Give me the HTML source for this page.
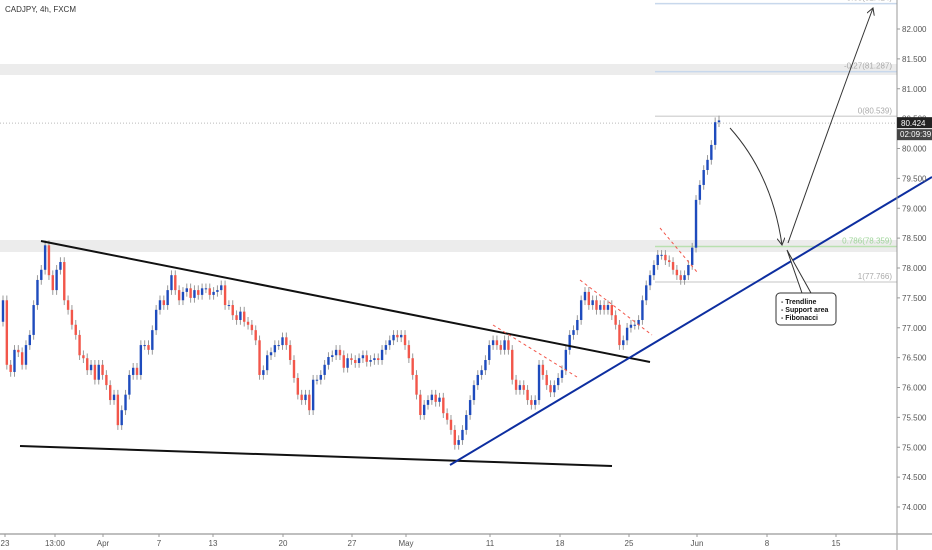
<!DOCTYPE html>
<html><head><meta charset="utf-8"><style>
body{margin:0;background:#fff;}
svg{display:block;font-family:"Liberation Sans",sans-serif;}
</style></head><body>
<svg id="chart" width="932" height="550" viewBox="0 0 932 550" xmlns="http://www.w3.org/2000/svg">
<rect width="932" height="550" fill="#fff"/>
<rect x="0" y="64" width="897" height="11" fill="#ececec"/>
<rect x="0" y="240" width="897" height="12" fill="#ececec"/>
<g id="fib"></g>
<g id="candles"></g>
<g id="draw"></g>
<g id="axis"></g>
<g id="xaxis"></g>
<text x="5" y="12" font-size="8" fill="#333">CADJPY, 4h, FXCM</text>
</svg>
<script>
const closes=[77.46,76.38,76.26,76.63,76.59,76.38,76.71,76.88,77.38,77.80,77.97,78.38,77.88,77.63,77.97,78.10,77.46,77.30,77.05,76.88,76.54,76.49,76.29,76.38,76.13,76.38,76.21,76.04,75.79,75.88,75.37,75.62,75.88,76.21,76.33,76.21,76.71,76.71,76.63,76.96,77.30,77.46,77.38,77.63,77.88,77.63,77.46,77.60,77.66,77.50,77.63,77.55,77.66,77.66,77.55,77.60,77.63,77.71,77.38,77.38,77.21,77.13,77.27,77.10,77.05,76.96,76.79,76.21,76.29,76.54,76.59,76.71,76.71,76.84,76.71,76.46,76.16,75.88,75.79,75.88,75.62,76.13,76.13,76.21,76.38,76.51,76.54,76.63,76.54,76.33,76.49,76.46,76.41,76.49,76.54,76.43,76.46,76.49,76.46,76.63,76.71,76.79,76.88,76.84,76.88,76.71,76.49,76.21,75.88,75.54,75.71,75.79,75.88,75.76,75.83,75.57,75.46,75.29,75.04,75.12,75.29,75.54,75.79,76.04,76.21,76.29,76.46,76.71,76.79,76.71,76.63,76.79,76.63,76.13,75.96,76.04,75.96,75.79,75.71,75.79,76.38,76.21,76.04,75.92,76.04,76.16,76.29,76.63,76.88,76.96,77.13,77.46,77.60,77.38,77.46,77.30,77.38,77.30,77.38,77.21,77.05,76.71,76.79,77.00,77.05,77.05,77.13,77.46,77.71,77.88,78.05,78.22,78.22,78.13,78.10,77.97,77.88,77.80,77.88,78.05,78.34,79.14,79.39,79.64,79.81,80.06,80.44,80.47];
const priceTicks=[74,74.5,75,75.5,76,76.5,77,77.5,78,78.5,79,79.5,80,80.5,81,81.5,82];
const timeLabels=["23","13:00","Apr","7","13","20","27","May","11","18","25","Jun","8","15"];
const timeLabelX=[5,55,103,159,213,283,352,406,490,560,629,697,767,836];
const fibLevels=[82.424,81.287,80.539,78.359,77.766];
const fibNames=["-0.68","-0.27","0","0.786","1"];
const fibColors=["#c8d8ec","#c8d8ec","#d8d8d8","#b9e0b0","#d8d8d8"];
const lastPrice=80.424;
const NS="http://www.w3.org/2000/svg";
function yS(p){return 29+(82-p)*59.75;}
function xS(i){return 3+i*(716/(closes.length-1));}
function mk(tag,attrs,parent){const e=document.createElementNS(NS,tag);for(const k in attrs)e.setAttribute(k,attrs[k]);parent.appendChild(e);return e;}
const cg=document.getElementById('candles');
for(let i=0;i<closes.length;i++){
  const o=i===0?77.1:closes[i-1],c=closes[i];
  const hi=Math.max(o,c)+0.08,lo=Math.min(o,c)-0.08;
  const x=xS(i);
  const w=mk('line',{x1:x,x2:x,y1:yS(hi),y2:yS(lo),stroke:'#9a9a9a','stroke-width':1},cg);
  
  
  const top=yS(Math.max(o,c)),h=Math.max(1,yS(Math.min(o,c))-top);
  const b=mk('rect',{x:x-1.2,y:top,width:2.4,height:h,fill:c>=o?'#1e4bbd':'#f2564a'},cg);
  
  
}
const fg=document.getElementById('fib');
fibLevels.forEach((p,i)=>{
  const l=mk('line',{x1:655,x2:897,y1:yS(p),y2:yS(p),stroke:fibColors[i],'stroke-width':1.5},fg);
  
  
  const t=mk('text',{x:892,y:yS(p)-3,'font-size':8,'text-anchor':'end',fill:i===3?'#9fd49a':'#aaa'},fg);
  t.textContent=fibNames[i]+'('+p.toFixed(3)+')';
  
  
});
const cp=mk('line',{x1:0,x2:897,y1:yS(lastPrice),y2:yS(lastPrice),stroke:'#bbb','stroke-dasharray':'1 2'},fg);


const ag=document.getElementById('axis');
mk('line',{x1:897,x2:897,y1:0,y2:550,stroke:'#999'},ag);
priceTicks.forEach(p=>{
  mk('line',{x1:897,x2:900,y1:yS(p),y2:yS(p),stroke:'#999'},ag);
  const t=mk('text',{x:902,y:yS(p)+3,'font-size':8,fill:'#555'},ag);
  t.textContent=p.toFixed(3);
  
  
});
mk('rect',{x:897,y:yS(lastPrice)-6,width:35,height:11,fill:'#222'},ag);
const lp=mk('text',{x:901,y:yS(lastPrice)+3,'font-size':8,fill:'#fff'},ag);lp.textContent=lastPrice.toFixed(3);


mk('rect',{x:897,y:yS(lastPrice)+6,width:35,height:11,fill:'#444'},ag);
const cd=mk('text',{x:900,y:yS(lastPrice)+14,'font-size':8,fill:'#fff'},ag);cd.textContent='02:09:39';


const xg=document.getElementById('xaxis');
mk('line',{x1:0,x2:932,y1:534,y2:534,stroke:'#aaa','stroke-width':1.5},xg);
timeLabels.forEach((s,i)=>{
  mk('line',{x1:timeLabelX[i],x2:timeLabelX[i],y1:534,y2:537,stroke:'#999'},xg);
  const t=mk('text',{x:timeLabelX[i],y:546,'font-size':8,'text-anchor':'middle',fill:'#555'},xg);
  t.textContent=s;
  
  
});
</script>
<script>
(function(){
const g=document.getElementById('draw');
g.innerHTML=`
<defs><marker id="ah" markerWidth="8" markerHeight="8" refX="7" refY="4" orient="auto"><path d="M0,0 L7,4 L0,8" fill="none" stroke="#333" stroke-width="1"/></marker></defs>
<line x1="41" y1="241" x2="650" y2="362" stroke="#111" stroke-width="2"/>
<line x1="20" y1="446" x2="612" y2="466" stroke="#111" stroke-width="2"/>
<line x1="450" y1="465" x2="932" y2="177" stroke="#0d2ea0" stroke-width="2"/>
<line x1="493" y1="325" x2="577" y2="377" stroke="#f2564a" stroke-dasharray="3 3"/>
<line x1="580" y1="280" x2="652" y2="335" stroke="#f2564a" stroke-dasharray="3 3"/>
<line x1="660" y1="228" x2="697" y2="272" stroke="#f2564a" stroke-dasharray="3 3"/>
<path d="M730,128 Q772,175 782,245" fill="none" stroke="#333" marker-end="url(#ah)"/>
<path d="M788,243 Q835,110 873,8" fill="none" stroke="#333" marker-end="url(#ah)"/>
<path d="M802,293 L787,250 L811,293" fill="#fff" stroke="#333"/>
<rect x="776" y="293" width="60" height="32" rx="4" fill="#fff" stroke="#333"/>
<text font-size="7" font-weight="bold" fill="#111"><tspan x="781" y="304">- Trendline</tspan><tspan x="781" y="312">- Support area</tspan><tspan x="781" y="320">- Fibonacci</tspan></text>`;
})();
</script>
</body></html>
